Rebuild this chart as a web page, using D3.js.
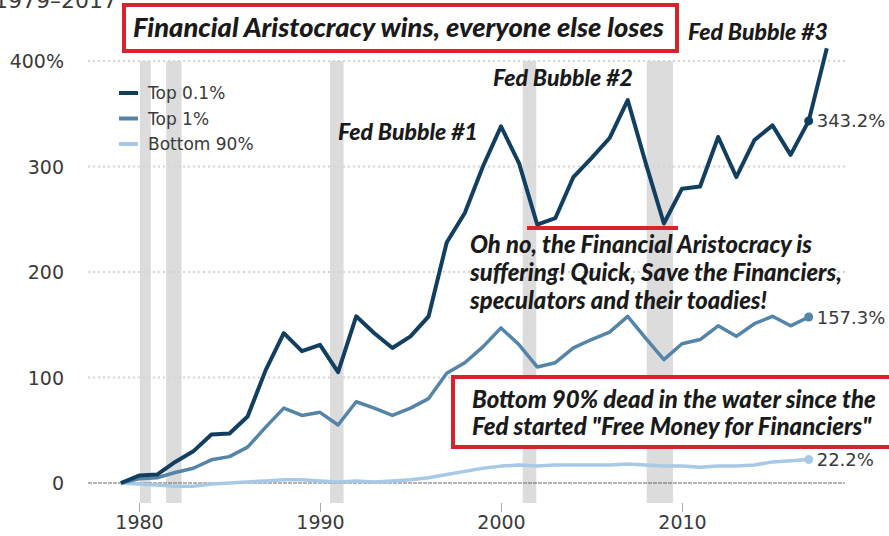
<!DOCTYPE html>
<html>
<head>
<meta charset="utf-8">
<script src="https://cdn.jsdelivr.net/npm/d3@7"></script>
<style>
	body { margin: 0; background: #fff; }
	svg { display: block; }
	.tick-label { font-family: "DejaVu Sans", sans-serif; font-size: 17px; fill: #3a3a3a; }
	.note { font-family: Lato, sans-serif; font-weight: 900; font-style: italic; fill: #1a1a1a; }
</style>
</head>
<body>
<svg id="chart" width="889" height="536"></svg>
<script>
"use strict";

/*
	DONNÉES	****	****	****	****	*/

var annees = d3.range(1979, 2019); // 1979 .. 2018

var top01 = [0, 7, 8, 20, 30, 46, 47, 63, 107, 142, 125, 131, 105, 158, 142, 128, 139, 158, 228, 256,
	300, 338, 303, 245, 251, 290, 308, 327, 363, 303, 246, 279, 281, 328, 290, 325, 339, 311, 343.2, 412];

var top1 = [0, 4, 5, 10, 14, 22, 25, 34, 53, 71, 64, 67, 55, 77, 71, 64, 71, 80, 104, 114,
	129, 147, 131, 110, 114, 128, 136, 143, 158, 137, 117, 132, 136, 149, 139, 151, 158, 149, 157.3];

var bottom90 = [0, -1, -2, -3, -3, -1, 0, 1, 2, 3, 3, 2, 1, 2, 1, 2, 3, 5, 8, 11,
	14, 16, 17, 16, 17, 17, 17, 17, 18, 17, 16, 16, 15, 16, 16, 17, 20, 21, 22.2];

var recessions = [[1980.05, 1980.65], [1981.5, 1982.35], [1990.55, 1991.3], [2001.2, 2001.95], [2008.05, 2009.5]];

var yTicks = [0, 100, 200, 300, 400];
var xTicks = [1980, 1990, 2000, 2010];

var series = ["Top 0.1%", "Top 1%", "Bottom 90%"];
var finLabels = ["343.2%", "157.3%", "22.2%"];

/*
	ÉCHELLES	****	****	****	****	*/

var svgEl = d3.select("#chart");
var couleurs = d3.scaleOrdinal().domain(series).range(["#123f5f", "#5484a8", "#a8c9e6"]);
var epaisseurs = d3.scaleOrdinal().domain(series).range([4, 3.5, 3.5]);

var x = d3.scaleLinear().domain([1980, 2010]).range([139, 682]);
var y = d3.scaleLinear().domain([0, 400]).range([483, 61]);

// bandes de récession
svgEl.append("g")
.selectAll("rect")
.data(recessions)
.enter()
	.append("rect")
	.attr("x", d => x(d[0]))
	.attr("width", d => x(d[1]) - x(d[0]))
	.attr("y", y(400))
	.attr("height", 503 - y(400))
	.attr("fill", "#dcdcdc");

// grilles
svgEl.append("g")
.selectAll("line")
.data(yTicks.slice(1))
.enter()
	.append("line")
	.attr("x1", 88)
	.attr("x2", 845)
	.attr("y1", d => y(d))
	.attr("y2", d => y(d))
	.attr("stroke", "#d4d4d4")
	.attr("stroke-width", 2)
	.attr("stroke-dasharray", "2,3");

svgEl.append("line")
.attr("x1", 88)
.attr("x2", 845)
.attr("y1", y(0))
.attr("y2", y(0))
.attr("stroke", "#666")
.attr("stroke-width", 1.2)
.attr("stroke-dasharray", "4,1");

// axe Y
var axeY = svgEl.append("g")
.attr("transform", "translate(64,0)")
.call(d3.axisLeft(y)
	.tickValues(yTicks)
	.tickSize(0)
	.tickPadding(0)
	.tickFormat(d => d === 400 ? d + "%" : d));
axeY.select(".domain").remove();
axeY.selectAll("text")
.attr("class", "tick-label")
.attr("fill", null)
.attr("dy", "0.36em")
.style("font-size", "19px");

// axe X
var axeX = svgEl.append("g")
.attr("transform", "translate(0,503)")
.call(d3.axisBottom(x)
	.tickValues(xTicks)
	.tickSize(9)
	.tickPadding(4)
	.tickFormat(d3.format("d")));
axeX.select(".domain").remove();
axeX.selectAll("line").attr("stroke", "#aaa");
axeX.selectAll("text")
.attr("class", "tick-label")
.attr("fill", null)
.style("font-size", "19px");

/*
	COURBES	****	****	****	****	*/

var ligne = d3.line()
.x((d, i) => x(annees[i]))
.y(d => y(d));

var donnees = [top01, top1, bottom90];

svgEl.append("g")
.selectAll("path")
.data(donnees.slice().reverse())
.enter()
	.append("path")
	.attr("d", d => ligne(d))
	.attr("fill", "none")
	.attr("stroke", (d, i) => couleurs(series[2 - i]))
	.attr("stroke-width", (d, i) => epaisseurs(series[2 - i]))
	.attr("stroke-linejoin", "round");

// points et étiquettes finales (2017)
var i2017 = annees.indexOf(2017);
var gFin = svgEl.append("g")
.selectAll("g")
.data(donnees)
.enter()
	.append("g")
	.attr("transform", d => "translate(" + x(2017) + "," + y(d[i2017]) + ")");
gFin.append("circle")
.attr("r", 4.5)
.attr("fill", (d, i) => couleurs(series[i]));
gFin.append("text")
.attr("class", "tick-label")
.attr("x", 8)
.attr("dy", "0.36em")
.style("font-size", "18px")
.text((d, i) => finLabels[i]);

// légende
var gLeg = svgEl.append("g")
.attr("transform", "translate(119,93)")
.selectAll("g")
.data(series)
.enter()
	.append("g")
	.attr("transform", (d, i) => "translate(0," + i * 25.5 + ")");
gLeg.append("line")
.attr("x1", 0)
.attr("x2", 19)
.attr("stroke", d => couleurs(d))
.attr("stroke-width", 4);
gLeg.append("text")
.attr("class", "tick-label")
.attr("x", 29)
.attr("dy", "0.36em")
.text(d => d);

// sous-titre rogné en haut
svgEl.append("text")
.attr("class", "tick-label")
.attr("x", -6)
.attr("y", 8)
.style("font-size", "22px")
.text("1979–2017");

/*
	ANNOTATIONS	****	****	****	****	*/

svgEl.append("rect")
.attr("x", 124)
.attr("y", 5)
.attr("width", 553)
.attr("height", 46)
.attr("fill", "#fff")
.attr("stroke", "#d8222c")
.attr("stroke-width", 4);

svgEl.append("text")
.attr("class", "note")
.attr("x", 133)
.attr("y", 37)
.style("font-size", "27.3px")
.text("Financial Aristocracy wins, everyone else loses");

var bulles = [["Fed Bubble #1", 338, 140], ["Fed Bubble #2", 493, 86], ["Fed Bubble #3", 688, 40]];
svgEl.append("g")
.selectAll("text")
.data(bulles)
.enter()
	.append("text")
	.attr("class", "note")
	.attr("x", d => d[1])
	.attr("y", d => d[2])
	.style("font-size", "23px")
	.text(d => d[0]);

svgEl.append("line")
.attr("x1", 527)
.attr("x2", 678)
.attr("y1", 228)
.attr("y2", 228)
.attr("stroke", "#d8222c")
.attr("stroke-width", 4);

var souffrance = ["Oh no, the Financial Aristocracy is", "suffering! Quick, Save the Financiers,", "speculators and their toadies!"];
svgEl.append("text")
.attr("class", "note")
.style("font-size", "23.8px")
.selectAll("tspan")
.data(souffrance)
.enter()
	.append("tspan")
	.attr("x", 470)
	.attr("y", (d, i) => 253 + i * 28)
	.text(d => d);

svgEl.append("rect")
.attr("x", 453)
.attr("y", 377)
.attr("width", 440)
.attr("height", 70)
.attr("fill", "#fff")
.attr("stroke", "#d8222c")
.attr("stroke-width", 4);

var fondu = ["Bottom 90% dead in the water since the", "Fed started \"Free Money for Financiers\""];
svgEl.append("text")
.attr("class", "note")
.style("font-size", "24px")
.selectAll("tspan")
.data(fondu)
.enter()
	.append("tspan")
	.attr("x", 472)
	.attr("y", (d, i) => 408 + i * 27)
	.text(d => d);
</script>
</body>
</html>
